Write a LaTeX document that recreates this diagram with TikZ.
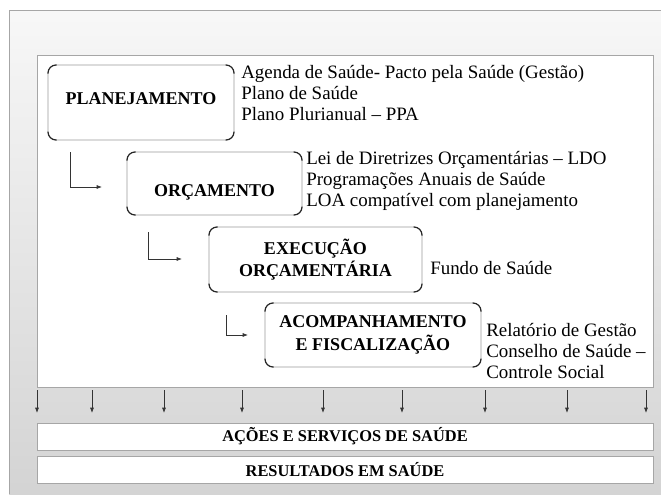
\documentclass[tikz,border=0pt]{standalone}
\usepackage{fontspec}
\setmainfont{Liberation Serif}
\usetikzlibrary{arrows.meta,calc}

\tikzset{
  stage/.style={draw=black!40, rounded corners=6pt, fill=white, align=center, outer sep=0pt, inner sep=0pt,
    font=\fontsize{13.5}{17}\selectfont\bfseries},
  notes/.style={anchor=west, align=left, inner sep=0pt, font=\fontsize{14.2}{15.75}\selectfont},
  band/.style={draw=black!35, fill=white, minimum width=462pt, minimum height=20.25pt, inner sep=0pt,
    font=\fontsize{12.3}{13}\selectfont\bfseries},
  flow/.style={draw=black!80, line width=0.5pt, -{Latex[length=4pt,width=3pt]}},
  corner/.style={draw=black!85, line width=0.9pt, rounded corners=6pt},
}
% dark marks on the four corners of a stage box
\newcommand{\stagecorners}[1]{%
  \draw[corner] ($(#1.north west)+(0,8.5)$) |- ($(#1.north west)+(8.5,0)$);
  \draw[corner] ($(#1.north east)+(-8.5,0)$) -| ($(#1.north east)+(0,8.5)$);
  \draw[corner] ($(#1.south east)+(0,-8.5)$) |- ($(#1.south east)+(-8.5,0)$);
  \draw[corner] ($(#1.south west)+(8.5,0)$) -| ($(#1.south west)+(0,-8.5)$);
}

\begin{document}
\begin{tikzpicture}[x=0.75pt,y=0.75pt,yscale=-1,xscale=1]
\useasboundingbox (0,0) rectangle (661,494);

%Shape: Background panel
\fill[top color=black!3, bottom color=black!17] (9,10) rectangle (661,494);
\draw[black!35] (9,494) -- (9,10) -- (661,10);
%Shape: White frame
\draw[black!35, fill=white] (37,55) rectangle (653,387);

%Shape: Stage boxes
\node[stage, minimum width=139.5pt, minimum height=56.25pt, text depth=6.5pt] (plan) at (141,102.5) {PLANEJAMENTO};
\node[stage, minimum width=131.25pt, minimum height=47.25pt, text height=19pt, text depth=0pt] (orc) at (214.5,183.5) {ORÇAMENTO};
\node[stage, minimum width=159.75pt, minimum height=48.75pt] (exec) at (315.5,259.5) {EXECUÇÃO\\ORÇAMENTÁRIA};
\node[stage, minimum width=162pt, minimum height=48pt] (acomp) at (373,335) {ACOMPANHAMENTO\\E FISCALIZAÇÃO};
\stagecorners{plan}
\stagecorners{orc}
\stagecorners{exec}
\stagecorners{acomp}

% Text Node
\node[notes] (plannotes) at (241,93.5) {Agenda de Saúde- Pacto pela Saúde (Gestão)\\Plano de Saúde\\Plano Plurianual -- PPA};
% Text Node
\node[notes] (orcnotes) at (306,181) {Lei de Diretrizes Orçamentárias -- LDO\\Programações Anuais de Saúde\\LOA compatível com planejamento};
% Text Node
\node[notes] (execnotes) at (430,268) {Fundo de Saúde};
% Text Node
\node[notes] (acompnotes) at (486,351) {Relatório de Gestão\\Conselho de Saúde --\\Controle Social};

%Straight Lines: steps down
\coordinate (s1) at (70,152);  \coordinate (e1) at (102,187);
\coordinate (s2) at (148,232); \coordinate (e2) at (182,259);
\coordinate (s3) at (226,315); \coordinate (e3) at (248,335);
\draw[flow] (s1) |- (e1);
\draw[flow] (s2) |- (e2);
\draw[flow] (s3) |- (e3);

%Straight Lines: arrows to actions
\foreach \x [count=\i] in {37,92,164,242,323,402,485,567,646}{
  \coordinate (top\i) at (\x,390);
  \coordinate (tip\i) at (\x,413);
  \draw[flow] (top\i) -- (tip\i);
}

%Shape: Bands
\node[band] (acoes) at (345,436.5) {AÇÕES E SERVIÇOS DE SAÚDE};
\node[band] (result) at (345,469.5) {RESULTADOS EM SAÚDE};
\end{tikzpicture}
\end{document}
